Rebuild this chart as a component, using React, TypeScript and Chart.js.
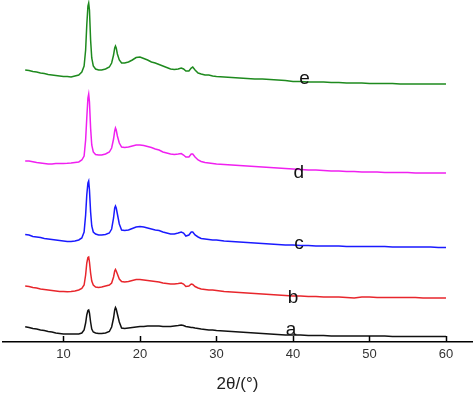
import React, { useEffect, useRef } from "react";
import { Chart, registerables } from "chart.js";

Chart.register(...registerables);

// 2θ sample positions (degrees)
const TWO_THETA = [
  5, 5.5, 6, 6.5, 7, 7.5, 8, 8.5, 9, 9.5, 10, 10.5, 11, 11.5, 12,
  12.4, 12.7, 12.9, 13.05, 13.2, 13.3, 13.4, 13.55, 13.7, 13.9, 14.2, 14.6,
  15, 15.5, 16, 16.3, 16.55, 16.7, 16.8, 16.9, 17.05, 17.3, 17.6,
  18, 18.5, 19, 19.5, 20, 20.5, 21, 21.5, 22, 22.5, 23, 23.5, 24, 24.5, 25,
  25.4, 25.7, 26, 26.4, 26.7, 26.9, 27.2, 27.6, 28, 28.5, 29, 29.5, 30,
  31, 32, 33, 34, 35, 36, 37, 38, 39, 40, 41, 42, 43, 44, 45, 46, 47, 48, 49, 50,
  51, 52, 53, 54, 55, 56, 57, 58, 59, 60,
];

// Intensities (a.u., vertically offset patterns)
const SERIES_A = [
  15.3, 14.5, 13.5, 13, 12, 11.5, 10.5, 10, 9, 8.5, 8, 8, 8, 8, 8,
  9, 12, 19, 27, 31.5, 32, 29, 20, 13, 10, 9, 8.5,
  8.5, 9, 10.5, 15, 24, 32, 34.5, 33, 28, 20, 14,
  13.5, 14, 14.5, 15, 15.5, 15.5, 16, 16, 16, 16, 15.5, 15.5, 15.5, 16, 16.5,
  17, 16.5, 15.5, 15, 14.5, 14.5, 14, 13.5, 13, 12.5, 12, 12, 11.5,
  11, 10.5, 10, 9.5, 9, 8.5, 8, 7.5, 7, 7, 7, 6.5, 6.5, 6.5, 6, 6, 6, 6, 6, 6,
  6, 6, 5.5, 5.5, 5.5, 5.5, 5.5, 5.5, 5.5, 5.5,
];
const SERIES_B = [
  56, 55.5, 54.5, 54, 53, 52.5, 52, 51.5, 51, 50.5, 50.5, 50.3, 50.5, 51, 52,
  53.5, 57, 67, 79, 84.5, 85, 80, 69, 61, 57, 55, 54.5,
  55, 56, 57, 59, 65, 71, 72.5, 71, 68, 63, 60.5,
  60, 60.5, 61.5, 62.5, 62.5, 62, 61.5, 61, 60.5, 60, 59, 58.5, 58, 58, 58.5,
  59, 58, 55.5, 56, 58, 57.5, 55.5, 54, 53, 52.5, 52, 52, 51.5,
  50.5, 50, 49.5, 49, 48.5, 48, 47.5, 47, 46.5, 46, 46, 45.5, 45.5, 45, 45, 45, 44.5, 44, 45, 45,
  44.5, 44.5, 44.5, 44.5, 44.5, 44.5, 44, 44, 44, 44,
];
const SERIES_C = [
  107.5, 107, 105.5, 105, 104.5, 103.5, 103, 102.5, 102, 101.5, 101, 100.5, 100.5, 101, 102,
  104, 110, 127, 147, 159, 161, 152, 130, 116, 110, 108, 107,
  107, 107.5, 109, 113, 124, 134, 136, 134, 128, 118, 112,
  111.5, 112, 113.5, 115, 115.5, 115, 114, 113, 112, 111.5, 110, 109, 108, 108, 109,
  110, 109, 106, 107, 110, 110, 107, 105, 103.5, 103, 102.5, 102, 102,
  101, 100.5, 100, 99.5, 99, 98.5, 98, 97.5, 97, 97, 96.5, 96.5, 96, 96, 96, 96, 95.5, 95.5, 95.5, 95.5,
  95.5, 95.5, 95, 95, 95, 95, 95, 95, 94.5, 94.5,
];
const SERIES_D = [
  181, 181, 180.3, 179.5, 179, 178.5, 178, 178, 178.5, 178.5, 178.5, 178.7, 179, 179.5, 180,
  182, 186, 202, 224, 244, 248, 240, 214, 197, 190, 187.5, 187,
  187, 188, 190, 194, 203, 211, 214, 212, 206, 199, 195,
  194.5, 195, 196, 197, 197, 196.5, 195.5, 194.5, 193, 192, 190, 189, 188, 187.5, 188,
  188.5, 187, 185, 185, 188, 188, 185, 182, 180.5, 179.5, 179, 178.5, 178,
  177.5, 177, 176.5, 176, 175.5, 175, 174.5, 174, 173.5, 173, 172.5, 172, 172, 171.5, 171, 171, 170.5, 170.5, 170, 170,
  170, 169.5, 169.5, 169.5, 169.5, 169, 169, 169, 169, 169,
];
const SERIES_E = [
  272, 271.5, 270.5, 270, 269, 268.5, 267.5, 267, 266.5, 266, 265.5, 265.5, 265, 266, 267,
  270, 276, 292, 317, 336, 339, 332, 302, 284, 276, 273, 272,
  272, 273, 275, 279, 287, 294, 296, 294, 288, 282, 279,
  279, 280, 282, 284.5, 285, 283.5, 282, 280, 279, 277.5, 276, 274.5, 273, 272.5, 273,
  274, 273, 271, 271, 274, 275, 272, 269, 268, 267, 267, 266, 265.5,
  265, 264.5, 264, 263.5, 263, 263, 262.5, 262, 261.5, 260.5, 260.5, 260, 260, 260, 259.5, 259.5, 259, 259, 259, 258.5,
  258.5, 258.5, 258.5, 258, 258, 258, 258, 258, 258, 258,
];

const SERIES_NAMES = ["a", "b", "c", "d", "e"];
const SERIES_COLORS = ["#111111", "#e8262c", "#1a1aff", "#f020f0", "#1e8a1e"];
const SERIES_VALUES = [SERIES_A, SERIES_B, SERIES_C, SERIES_D, SERIES_E];

// Curve-label anchor points (2θ, intensity at text baseline)
const LABEL_X = [39.75, 40.0, 40.8, 40.75, 41.5];
const LABEL_Y = [7, 39, 93, 164, 258];

const X_TICKS = [10, 20, 30, 40, 50, 60];
const X_MIN = 2.1;
const X_MAX = 63.4;
const Y_MAX = 342;

const FONT = '"Liberation Sans", Arial, sans-serif';

const overlayPlugin = {
  id: "overlay",
  afterDatasetsDraw(chart: any) {
    const { ctx, chartArea } = chart;
    const xs = chart.scales.x;
    const ys = chart.scales.y;
    ctx.save();
    ctx.strokeStyle = "#000";
    ctx.lineWidth = 1.5;
    X_TICKS.forEach((v) => {
      const px = Math.round(xs.getPixelForValue(v)) + 0.5;
      ctx.beginPath();
      ctx.moveTo(px, chartArea.bottom);
      ctx.lineTo(px, chartArea.bottom - 6);
      ctx.stroke();
    });
    ctx.font = `19px ${FONT}`;
    ctx.fillStyle = "#111";
    ctx.textAlign = "center";
    ctx.textBaseline = "alphabetic";
    SERIES_NAMES.forEach((n, i) => {
      ctx.fillText(n, xs.getPixelForValue(LABEL_X[i]), ys.getPixelForValue(LABEL_Y[i]));
    });
    ctx.restore();
  },
};

export default function App() {
  const canvasRef = useRef<HTMLCanvasElement | null>(null);

  useEffect(() => {
    if (!canvasRef.current) return;
    const chart = new Chart(canvasRef.current, {
      type: "line",
      data: {
        datasets: SERIES_VALUES.map((vals, i) => ({
          label: SERIES_NAMES[i],
          data: TWO_THETA.map((x, j) => ({ x, y: vals[j] })),
          borderColor: SERIES_COLORS[i],
          borderWidth: 1.5,
          pointRadius: 0,
          tension: 0,
          fill: false,
        })),
      },
      options: {
        animation: false,
        responsive: false,
        devicePixelRatio: 1,
        layout: { padding: { left: 3, right: 2, top: 0, bottom: 1 } },
        plugins: {
          legend: { display: false },
          tooltip: { enabled: false },
        },
        scales: {
          x: {
            type: "linear",
            min: X_MIN,
            max: X_MAX,
            afterBuildTicks: (scale: any) => {
              scale.ticks = X_TICKS.map((v) => ({ value: v }));
            },
            grid: { display: true, drawOnChartArea: false, drawTicks: false },
            border: { display: true, color: "#000", width: 1.5 },
            ticks: {
              padding: 5,
              color: "#333",
              font: { family: FONT, size: 13 },
              maxRotation: 0,
            },
            title: {
              display: true,
              text: "2θ/(°)",
              color: "#222",
              font: { family: FONT, size: 17 },
              padding: { top: 7, bottom: 0 },
            },
          },
          y: {
            display: false,
            min: 0,
            max: Y_MAX,
          },
        },
      },
      plugins: [overlayPlugin],
    });
    return () => chart.destroy();
  }, []);

  return (
    <div style={{ position: "absolute", left: 0, top: 0, width: 474, height: 396, background: "#fff" }}>
      <canvas ref={canvasRef} width={474} height={396} style={{ width: 474, height: 396 }} />
    </div>
  );
}
